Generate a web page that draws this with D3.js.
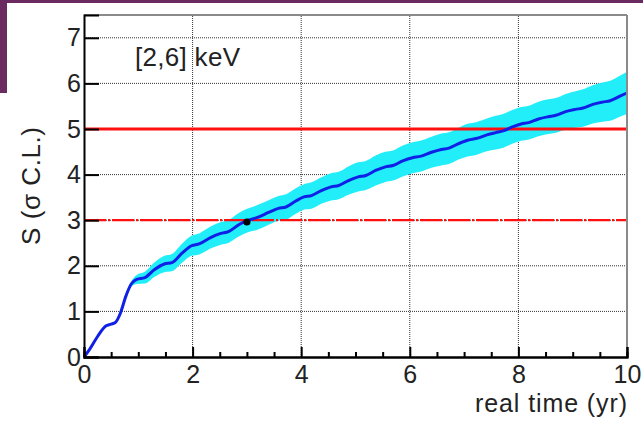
<!DOCTYPE html>
<html>
<head>
<meta charset="utf-8">
<script src="https://cdn.jsdelivr.net/npm/d3@7"></script>
<style>
  html, body { margin: 0; padding: 0; background: #fff; }
  svg { display: block; font-family: "Liberation Sans", Arial, sans-serif; }
</style>
</head>
<body>
<div id="app"></div>
<script>
const width = 643;
const height = 421;
const margin = { top: 15, right: 16, bottom: 64, left: 84 };

// real time (yr) and significance
const time = [0, 0.1, 0.25, 0.4, 0.5, 0.58, 0.67, 0.77, 0.87, 0.97, 1.12, 1.3, 1.48, 1.62, 1.8, 1.98, 2.12, 2.33, 2.52, 2.66,
  2.85, 3.03, 3.17, 3.4, 3.58, 3.72, 3.9, 4.05, 4.19, 4.37, 4.55, 4.69, 4.87, 5.05, 5.19, 5.37, 5.55, 5.69, 5.87, 6.05,
  6.19, 6.4, 6.58, 6.72, 6.9, 7.08, 7.22, 7.42, 7.58, 7.72, 7.9, 8.05, 8.19, 8.37, 8.55, 8.69, 8.87, 9.05, 9.19, 9.37,
  9.55, 9.69, 9.87, 10];
const signif = [0, 0.16, 0.45, 0.68, 0.72, 0.76, 0.96, 1.33, 1.6, 1.70, 1.74, 1.92, 2.04, 2.07, 2.27, 2.44, 2.48, 2.62, 2.71, 2.75,
  2.9, 3.0, 3.05, 3.17, 3.26, 3.29, 3.42, 3.51, 3.54, 3.65, 3.73, 3.76, 3.87, 3.95, 3.98, 4.09, 4.17, 4.20, 4.30, 4.37,
  4.40, 4.49, 4.55, 4.58, 4.68, 4.76, 4.79, 4.87, 4.92, 4.96, 5.05, 5.11, 5.14, 5.22, 5.27, 5.30, 5.38, 5.43, 5.46, 5.54,
  5.59, 5.62, 5.72, 5.79];
// half width of the cyan band
const spread = [0, 0, 0, 0, 0, 0, 0, 0.02, 0.06, 0.1, 0.13, 0.16, 0.18, 0.19, 0.21, 0.22, 0.23, 0.24, 0.25, 0.25,
  0.26, 0.26, 0.27, 0.27, 0.27, 0.28, 0.28, 0.28, 0.29, 0.29, 0.30, 0.30, 0.31, 0.32, 0.32, 0.33, 0.33, 0.33, 0.34, 0.34,
  0.34, 0.34, 0.35, 0.35, 0.35, 0.36, 0.36, 0.36, 0.37, 0.37, 0.37, 0.37, 0.37, 0.38, 0.38, 0.38, 0.39, 0.40, 0.41, 0.42,
  0.43, 0.44, 0.45, 0.46];

const marker = { t: 3.0, s: 2.96 };
const thresholds = [
  { s: 5, dash: null, width: 3.2 },
  { s: 3, dash: "22,2,2,2", width: 2.2 },
];
const xTicks = [0, 2, 4, 6, 8, 10];
const xMinorTicks = [0.5, 1, 1.5, 2.5, 3, 3.5, 4.5, 5, 5.5, 6.5, 7, 7.5, 8.5, 9, 9.5];
const yTicks = [0, 1, 2, 3, 4, 5, 6, 7];

const data = time.map((t, i) => ({ t, s: signif[i], w: spread[i] }));

const x = d3.scaleLinear().domain([0, 10]).range([margin.left, width - margin.right]);
const y = d3.scaleLinear().domain([0, 7.5]).range([height - margin.bottom, margin.top]);

const svg = d3.select("#app").append("svg").attr("width", width).attr("height", height);

// purple slide decoration
svg.append("rect").attr("x", 0).attr("y", 0).attr("width", width).attr("height", 3).attr("fill", "#6b2b60");
svg.append("rect").attr("x", 0).attr("y", 0).attr("width", 7).attr("height", 93).attr("fill", "#6b2b60");

// dotted grid
svg.append("g")
  .selectAll("line")
  .data(xTicks.filter((d) => d > 0 && d < 10))
  .join("line")
  .attr("x1", (d) => x(d)).attr("x2", (d) => x(d))
  .attr("y1", y(0)).attr("y2", y(7.5))
  .attr("stroke", "#333").attr("stroke-width", 1).attr("stroke-dasharray", "1,1");
svg.append("g")
  .selectAll("line")
  .data(yTicks.filter((d) => d > 0))
  .join("line")
  .attr("x1", x(0)).attr("x2", x(10))
  .attr("y1", (d) => y(d)).attr("y2", (d) => y(d))
  .attr("stroke", "#333").attr("stroke-width", 1).attr("stroke-dasharray", "1,1");

// uncertainty band
svg.append("path")
  .datum(data)
  .attr("fill", "#22eefa")
  .attr("d", d3.area().x((d) => x(d.t)).y0((d) => y(d.s - d.w)).y1((d) => y(d.s + d.w)).curve(d3.curveMonotoneX));

// threshold lines
thresholds.forEach((th) => {
  svg.append("line")
    .attr("x1", x(0)).attr("x2", x(10))
    .attr("y1", y(th.s)).attr("y2", y(th.s))
    .attr("stroke", "#ff1010")
    .attr("stroke-width", th.width)
    .attr("stroke-dasharray", th.dash);
});

// significance curve
svg.append("path")
  .datum(data)
  .attr("fill", "none")
  .attr("stroke", "#1020e6")
  .attr("stroke-width", 3)
  .attr("d", d3.line().x((d) => x(d.t)).y((d) => y(d.s)).curve(d3.curveMonotoneX));

svg.append("circle")
  .attr("cx", x(marker.t)).attr("cy", y(marker.s)).attr("r", 3.6).attr("fill", "#000");

// frame
svg.append("line").attr("x1", x(0)).attr("x2", x(10)).attr("y1", y(7.5)).attr("y2", y(7.5))
  .attr("stroke", "#8a8a8a").attr("stroke-width", 2);
svg.append("line").attr("x1", x(10)).attr("x2", x(10)).attr("y1", y(0)).attr("y2", y(7.5))
  .attr("stroke", "#8a8a8a").attr("stroke-width", 2);

// axes
const xAxis = svg.append("g")
  .attr("transform", `translate(0, ${y(0)})`)
  .call(d3.axisBottom(x).tickValues(xTicks).tickSize(-10).tickPadding(8).tickFormat(d3.format("d")));
const xMinor = svg.append("g")
  .attr("transform", `translate(0, ${y(0)})`)
  .call(d3.axisBottom(x).tickValues(xMinorTicks).tickSize(-5).tickFormat(""));
const yAxis = svg.append("g")
  .attr("transform", `translate(${x(0)}, 0)`)
  .call(d3.axisLeft(y).tickValues(yTicks).tickSize(-15).tickPadding(3).tickFormat(d3.format("d")));

[xAxis, xMinor, yAxis].forEach((g) => {
  g.select(".domain").attr("stroke", "#000").attr("stroke-width", 2);
  g.selectAll(".tick line").attr("stroke", "#000").attr("stroke-width", 2);
  g.selectAll(".tick text").attr("fill", "#222").style("font-size", "25px").style("font-family", "Liberation Sans, Arial, sans-serif");
});

// titles
svg.append("text")
  .attr("x", x(10)).attr("y", 412)
  .attr("text-anchor", "end")
  .attr("fill", "#222")
  .attr("textLength", 152)
  .attr("lengthAdjust", "spacing")
  .style("font-size", "25px")
  .text("real time (yr)");

svg.append("text")
  .attr("transform", "translate(40, 186) rotate(-90)")
  .attr("text-anchor", "middle")
  .attr("fill", "#222")
  .attr("textLength", 118)
  .attr("lengthAdjust", "spacing")
  .style("font-size", "26px")
  .text("S (σ C.L.)");

svg.append("text")
  .attr("x", 135).attr("y", 66)
  .attr("fill", "#222")
  .attr("textLength", 105)
  .attr("lengthAdjust", "spacing")
  .style("font-size", "26px")
  .text("[2,6] keV");
</script>
</body>
</html>
